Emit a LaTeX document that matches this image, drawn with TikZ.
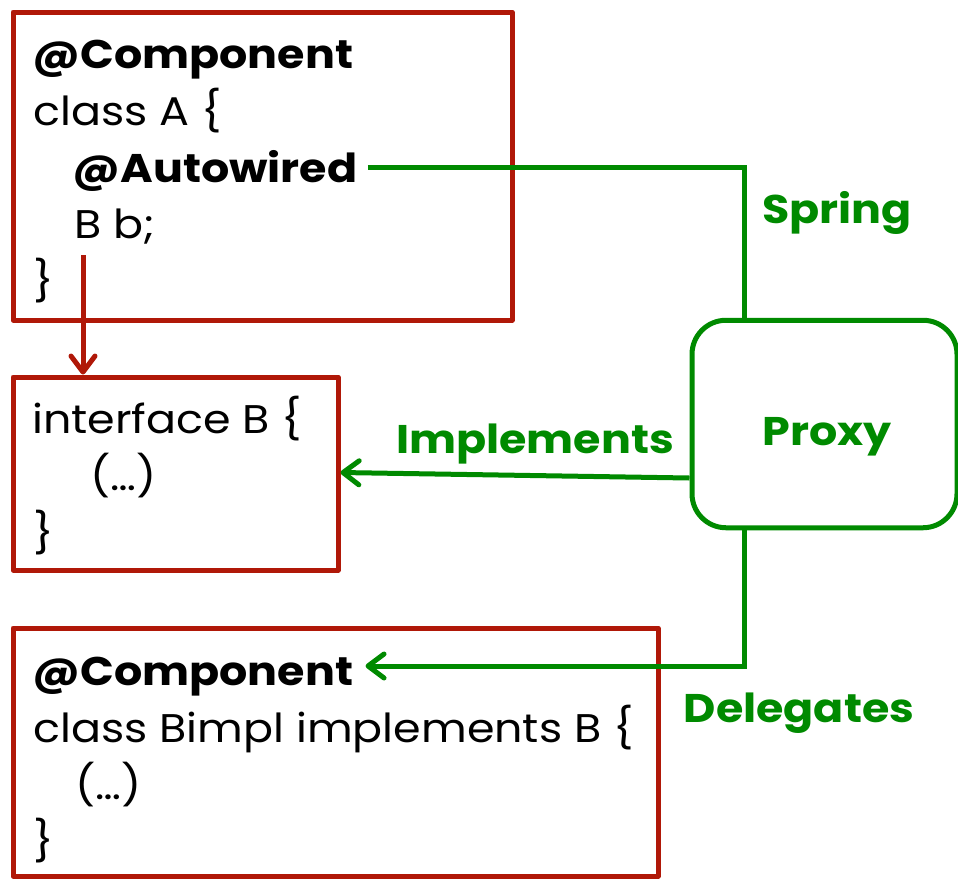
\documentclass[tikz,border=0pt]{standalone}
\usepackage{fontspec}
\setmainfont{Poppins}[FakeStretch=1.11]
\usetikzlibrary{arrows.meta}
\definecolor{boxred}{RGB}{176,24,8}
\definecolor{linkgreen}{RGB}{0,138,0}

\begin{document}
\begin{tikzpicture}[x=0.5pt, y=-0.5pt,
  codebox/.style={draw=boxred, line width=2.5pt, line join=round},
  code/.style={anchor=base west, inner sep=0pt, font=\fontsize{20}{24}\selectfont},
  codebf/.style={code, font=\fontsize{20}{24}\selectfont\bfseries},
  tag/.style={anchor=base, inner sep=0pt, text=linkgreen, font=\fontsize{20}{24}\selectfont\bfseries},
  link/.style={draw=linkgreen, line width=2.5pt},
  >={Straight Barb[length=8pt,width=12pt,round]}]
  \useasboundingbox (0,0) rectangle (958,879);

  \node[codebox, minimum width=249.5pt, minimum height=154pt] (classA) at (262.5,166) {};
  \node[codebox, minimum width=162.5pt, minimum height=96.5pt] (ifaceB) at (175.5,473.5) {};
  \node[codebox, minimum width=322.5pt, minimum height=124pt] (bimpl) at (335.5,752) {};
  \node[draw=linkgreen, line width=2.5pt, rounded corners=17pt,
        minimum width=132.5pt, minimum height=103.75pt] (proxy) at (824.5,424) {};

  \node[codebf] (compA) at (32,68) {@Component};
  \node[code] (classline) at (33,125) {class A \{};
  \node[codebf] (autow) at (72,182) {@Autowired};
  \node[code] (fieldb) at (74,238) {B b;};
  \node[code] (closeA) at (33,295) {\}};

  \node[code] (ifaceline) at (32,433) {interface B \{};
  \node[code] (ifacebody) at (90,490) {(…)};
  \node[code] (closeB) at (33,547) {\}};

  \node[codebf] (compB) at (32,685) {@Component};
  \node[code] (bimplline) at (33,742) {class Bimpl implements B \{};
  \node[code] (bimplbody) at (75,799) {(…)};
  \node[code] (closeC) at (33,855) {\}};

  \node[tag] (proxytxt) at (827,445) {Proxy};
  \node[tag] (springlbl) at (837,223) {Spring};
  \node[tag] (impllbl) at (535,453) {Implements};
  \node[tag] (delelbl) at (799,722) {Delegates};

  \coordinate (drop) at ([shift={(4.5pt,-8.5pt)}]fieldb.base west);
  \draw[boxred, line width=2.5pt, ->] (drop) -- (drop |- ifaceB.north);

  \draw[link] ([shift={(5pt,7.5pt)}]autow.base east) -| ([xshift=27.5pt]proxy.north west);
  \draw[link, ->] ([yshift=-27pt]proxy.west) -- ([yshift=0.5pt]ifaceB.east);
  \draw[link, ->] ([xshift=27.5pt]proxy.south west) |- ([shift={(6pt,9.5pt)}]compB.base east);
\end{tikzpicture}
\end{document}
